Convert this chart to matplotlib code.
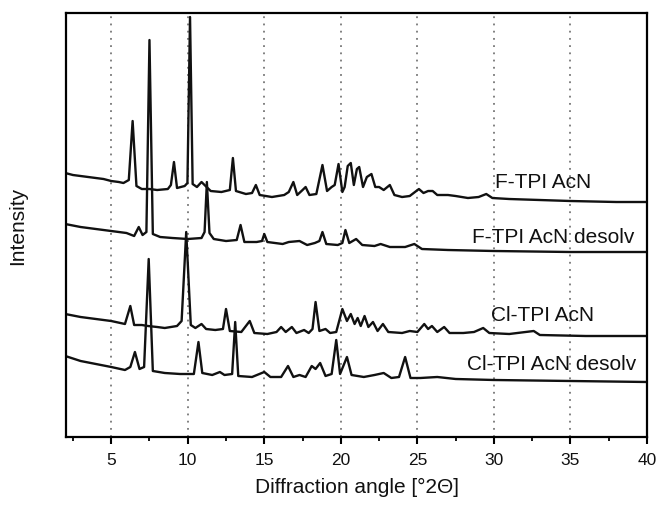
import numpy as np
import matplotlib
matplotlib.use('Agg')
import matplotlib.pyplot as plt

# peak-outline points (angle in deg 2theta, intensity in a.u.)
f_acn_x = [2.0, 2.5, 3.0, 3.5, 4.0, 4.5, 5.0, 5.5, 5.8, 6.15, 6.4, 6.65, 7.0, 7.5, 8.0, 8.7,
           8.9, 9.1, 9.3, 9.8, 9.98, 10.15, 10.32, 10.6, 10.9, 11.1, 11.5, 12.2, 12.75,
           12.95, 13.15, 13.8, 14.2, 14.45, 14.7, 15.5, 16.3, 16.6, 16.9, 17.15, 17.5,
           17.7, 17.95, 18.4, 18.8, 19.1, 19.4, 19.6, 19.85, 20.1, 20.25, 20.45, 20.65,
           20.85, 21.05, 21.2, 21.45, 21.7, 22.0, 22.25, 22.5, 22.8, 23.2, 23.5, 24.0,
           24.5, 25.1, 25.4, 25.7, 26.0, 26.3, 27.0, 27.5, 28.3, 29.0, 29.5, 29.9, 31.0,
           33.0, 35.0, 38.0, 40.0]
f_acn_y = [264, 262, 261, 260, 259, 258, 256, 255, 254, 257, 316, 251, 248, 248, 247, 248,
           252, 275, 249, 251, 254, 420, 253, 250, 255, 252, 246, 245, 247,
           279, 246, 243, 244, 252, 242, 240, 242, 245, 255, 242, 247,
           250, 242, 243, 272, 246, 250, 252, 273, 245, 250, 271, 274,
           252, 268, 270, 250, 260, 263, 250, 250, 247, 252, 242, 240,
           241, 248, 244, 246, 246, 242, 242, 241, 239, 240, 243, 239, 238,
           237, 236, 235, 235]

f_desolv_x = [2.0, 3.0, 4.0, 5.0, 6.0, 6.5, 6.8, 7.05, 7.3, 7.5, 7.72, 8.2, 9.0, 10.0,
              10.9, 11.1, 11.25, 11.42, 11.7, 12.5, 13.2, 13.45, 13.7, 14.5, 14.85, 15.0,
              15.2, 16.2, 16.6, 17.3, 17.8, 18.3, 18.6, 18.8, 19.05, 19.8, 20.1, 20.3,
              20.55, 21.0, 21.4, 22.2, 22.6, 23.2, 24.2, 24.8, 25.3, 27.0, 30.0, 35.0, 40.0]
f_desolv_y = [213, 210, 208, 206, 204, 201, 210, 202, 205, 397, 203, 200, 199, 198,
              199, 205, 255, 204, 198, 196, 197, 212, 195, 195, 196, 203,
              195, 193, 195, 196, 192, 194, 196, 205, 193, 192, 194, 207,
              194, 198, 192, 191, 193, 190, 190, 193, 188, 187, 186, 185, 185]

cl_acn_x = [2.0, 3.0, 4.0, 5.0, 5.9, 6.25, 6.5, 7.0, 7.4, 8.0, 8.5, 9.3, 9.6, 9.9, 10.2,
            10.5, 10.9, 11.2, 11.8, 12.3, 12.5, 12.75, 13.5, 14.05, 14.35, 15.2, 15.8,
            16.1, 16.4, 16.8, 17.1, 17.6, 17.9, 18.15, 18.35, 18.6, 19.0, 19.3, 19.7,
            20.1, 20.4, 20.65, 20.9, 21.1, 21.3, 21.55, 21.8, 22.1, 22.4, 22.75, 23.1,
            24.0, 24.5, 25.0, 25.45, 25.7, 25.95, 26.3, 26.75, 27.1, 28.0, 28.7, 29.3,
            29.7, 31.0, 32.6, 33.0, 36.0, 40.0]
cl_acn_y = [123, 120, 118, 116, 113, 131, 112, 112, 111, 110, 109, 111, 116, 205, 112,
            109, 113, 108, 107, 108, 128, 106, 105, 116, 104, 103, 105,
            110, 105, 110, 104, 107, 104, 108, 135, 106, 108, 104, 105,
            128, 116, 123, 113, 119, 111, 121, 110, 115, 106, 113, 105,
            104, 106, 105, 113, 108, 111, 105, 110, 104, 104, 105, 109,
            104, 103, 106, 102, 101, 101]

cl_desolv_x = [2.0, 3.0, 4.0, 5.0, 5.9, 6.25, 6.55, 6.85, 7.15, 7.45, 7.72, 8.5, 9.5,
               10.4, 10.7, 10.95, 11.6, 12.1, 12.4, 12.9, 13.1, 13.3, 14.2, 15.0, 15.4,
               16.1, 16.55, 16.9, 17.3, 17.7, 18.1, 18.35, 18.65, 19.0, 19.4, 19.7, 19.95,
               20.4, 20.7, 21.5, 22.2, 22.8, 23.3, 23.8, 24.2, 24.55, 25.2, 26.3, 27.5,
               30.0, 35.0, 40.0]
cl_desolv_y = [81, 76, 73, 70, 67, 70, 85, 68, 70, 178, 66, 64, 63,
               63, 95, 64, 62, 65, 62, 63, 115, 61, 60, 65, 60,
               60, 71, 60, 62, 60, 71, 68, 74, 61, 63, 97, 63,
               80, 62, 60, 62, 64, 59, 60, 80, 59, 59, 60, 58,
               57, 56, 55]

traces = [(f_acn_x, f_acn_y), (f_desolv_x, f_desolv_y),
          (cl_acn_x, cl_acn_y), (cl_desolv_x, cl_desolv_y)]
labels = ['F-TPI AcN', 'F-TPI AcN desolv', 'Cl-TPI AcN', 'Cl-TPI AcN desolv']
label_pos = [(33.2, 256), (33.85, 201), (33.2, 123), (33.8, 73)]

plt.rcParams['font.family'] = ['Liberation Sans', 'DejaVu Sans']

fig = plt.figure(figsize=(6.57, 5.06), dpi=100)
ax = fig.add_axes([0.1005, 0.1344, 0.8843, 0.8379])

for (x, y) in traces:
    ax.plot(x, y, color='#111111', lw=1.7, solid_joinstyle='round')

for lab, (lx, ly) in zip(labels, label_pos):
    ax.text(lx, ly, lab, fontsize=15, ha='center', va='center', color='#111111')

ax.set_xlim(2.05, 40)
ax.set_ylim(0, 424)
ax.set_xticks(np.arange(5, 41, 5))
ax.set_xticks(np.arange(2.5, 40.1, 2.5), minor=True)
ax.set_yticks([])
for gx in range(5, 40, 5):
    ax.axvline(gx, color='#777777', ls=(0, (1, 3)), lw=1.3, zorder=0)

ax.tick_params(axis='x', which='major', direction='out', length=5, width=1.5,
               labelsize=12.5, pad=6, labelcolor='#111111')
ax.tick_params(axis='x', which='minor', direction='out', length=3, width=1.3)
for s in ax.spines.values():
    s.set_linewidth(1.6)

ax.set_xlabel('Diffraction angle [°2Θ]', fontsize=15, labelpad=7, color='#111111')
ax.set_ylabel('Intensity', fontsize=15, labelpad=28, color='#111111')

fig.savefig('out.png', dpi=100)
